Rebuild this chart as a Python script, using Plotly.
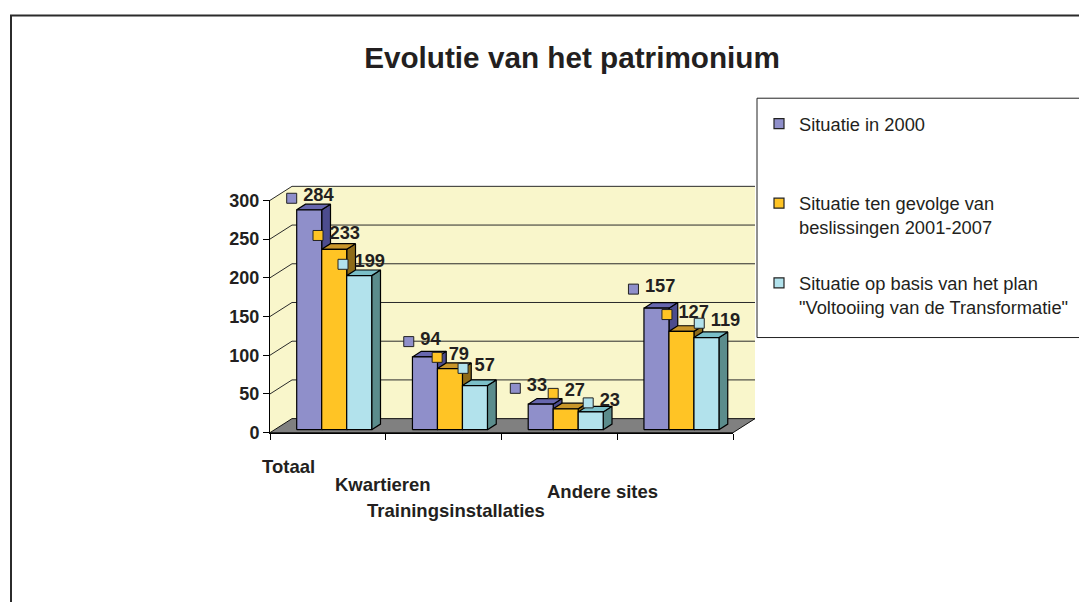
import plotly.graph_objects as go

# ---------------- data ----------------
categories = ["Totaal", "Kwartieren", "Trainingsinstallaties", "Andere sites"]
series_names = [
    "Situatie in 2000",
    "Situatie ten gevolge van<br>beslissingen 2001-2007",
    "Situatie op basis van het plan<br>\"Voltooiing van de Transformatie\"",
]
situatie_2000 = [284, 94, 33, 157]
situatie_2001_2007 = [233, 79, 27, 127]
situatie_plan = [199, 57, 23, 119]
y_ticks = [0, 50, 100, 150, 200, 250, 300]
title_text = "Evolutie van het patrimonium"

series_values = [situatie_2000, situatie_2001_2007, situatie_plan]

# ---------------- styles ----------------
FONT = "Liberation Sans, Arial, sans-serif"
TXT = "#231F20"
front_colors = ["#8F8FCA", "#FFC425", "#B2E2EC"]
top_colors = ["#6767AE", "#C9962A", "#7BBFC8"]
side_colors = ["#4C4C8E", "#8E6B19", "#5B8C8C"]
WALL = "#F9F6CB"
FLOOR = "#808080"

# ---------------- page / figure size ----------------
W = 1079
FIG_H = 602
# vertical calibration: shown_y = V_SCALE * fig_y + V_OFF
V_SCALE = 0.9655
V_OFF = 8.9


def px_x(p):
    return p / W


def px_y(r):
    fy = (r - V_OFF) / V_SCALE
    return 1 - fy / FIG_H


# ---------------- geometry (target pixels -> data units) ----------------
X0_PX = 270.0          # pixel of front y-axis
Y0_PX = 431.0          # pixel of value 0 on the front plane
CAT_PX = 115.75        # pixels per category
VAL_PX = 232.0 / 300   # pixels per value unit

DX = 22 / CAT_PX       # full depth, x
DY = 14 / VAL_PX       # full depth, y
F_FRONT, F_BACK = 0.21, 0.61
BAR_OFF = 26.7 / CAT_PX
BAR_W = 25 / CAT_PX
NCAT = len(categories)
YMAX = y_ticks[-1]

# label nudges (pixels) of the data-label key relative to bar's front top-left corner
label_dx = [[-5, -3.7, -12.9, -10.5], [-3.7, -0.3, 0, -2], [-3.7, 0.6, 10, 5.3]]
label_dy = [[-11.5, -15.3, -15.8, -19], [-13.8, -11.2, -15.4, -16.8], [-11.3, -17.2, -9, -14.3]]

fig = go.Figure()

# walls (side + back)
wx = [0, 0, DX, NCAT + DX, NCAT + DX, NCAT, 0]
wy = [0, YMAX, YMAX + DY, YMAX + DY, DY, 0, 0]
fig.add_trace(go.Scatter(x=wx, y=wy, fill="toself", fillcolor=WALL, mode="lines",
                         line=dict(width=0), hoverinfo="skip", showlegend=False))
# gridlines
gx, gy = [], []
for v in y_ticks[1:]:
    gx += [0, DX, NCAT + DX, None]
    gy += [v, v + DY, v + DY, None]
fig.add_trace(go.Scatter(x=gx, y=gy, mode="lines", line=dict(color="#2a2a2a", width=1),
                         hoverinfo="skip", showlegend=False))
# floor
fig.add_trace(go.Scatter(x=[0, NCAT, NCAT + DX, DX, 0], y=[0, 0, DY, DY, 0], fill="toself",
                         fillcolor=FLOOR, mode="lines", line=dict(color="#111", width=1),
                         hoverinfo="skip", showlegend=False))

# 3D bars
base = F_FRONT * DY
ddx = (F_BACK - F_FRONT) * DX
ddy = (F_BACK - F_FRONT) * DY
for s, vals in enumerate(series_values):
    fx, fy, tx, ty, sx, sy = [], [], [], [], [], []
    for i, v in enumerate(vals):
        xl = i + BAR_OFF + s * BAR_W
        xr = xl + BAR_W
        yb = base
        yt = v + base
        fx += [xl, xr, xr, xl, xl, None]
        fy += [yb, yb, yt, yt, yb, None]
        tx += [xl, xr, xr + ddx, xl + ddx, xl, None]
        ty += [yt, yt, yt + ddy, yt + ddy, yt, None]
        sx += [xr, xr + ddx, xr + ddx, xr, xr, None]
        sy += [yb, yb + ddy, yt + ddy, yt, yb, None]
    for px_, py_, col in ((sx, sy, side_colors[s]), (tx, ty, top_colors[s]), (fx, fy, front_colors[s])):
        fig.add_trace(go.Scatter(x=px_, y=py_, fill="toself", fillcolor=col, mode="lines",
                                 line=dict(color="#000", width=1.2), hoverinfo="skip",
                                 showlegend=False))

# data labels (legend key + value)
for s, vals in enumerate(series_values):
    mx, my, tx, ty, tt = [], [], [], [], []
    for i, v in enumerate(vals):
        xl = i + BAR_OFF + s * BAR_W
        x_c = xl + label_dx[s][i] / CAT_PX
        y_c = v + base - label_dy[s][i] / VAL_PX
        mx.append(x_c)
        my.append(y_c)
        tx.append(x_c + 11.5 / CAT_PX)
        ty.append(y_c + 1.5 / VAL_PX)
        tt.append(str(v))
    fig.add_trace(go.Scatter(x=mx, y=my, mode="markers",
                             marker=dict(symbol="square", size=10, color=front_colors[s],
                                         line=dict(color="#222", width=1)),
                             hoverinfo="skip", showlegend=False, cliponaxis=False))
    fig.add_trace(go.Scatter(x=tx, y=ty, mode="text", text=tt, textposition="middle right",
                             textfont=dict(family=FONT, size=18.3, color=TXT, weight="bold"),
                             hoverinfo="skip", showlegend=False, cliponaxis=False))

# legend entries
legend_labels = [series_names[0] + "<br> ", series_names[1], series_names[2]]
for s in range(3):
    fig.add_trace(go.Scatter(x=[None], y=[None], mode="markers", name=legend_labels[s],
                             legendgroup=f"g{s}",
                             marker=dict(symbol="square", size=10, color=front_colors[s],
                                         line=dict(color="#222", width=1.2))))

# axis subplot (front value axis + category axis)
fig.add_trace(go.Scatter(x=[None], y=[None], xaxis="x2", yaxis="y2", showlegend=False,
                         hoverinfo="skip"))

# main (drawing) axes span the whole figure
r_top = V_OFF                       # target px of figure top
r_bot = V_SCALE * FIG_H + V_OFF     # target px of figure bottom
yr_ = [(Y0_PX - r_bot) / VAL_PX, (Y0_PX - r_top) / VAL_PX]
xr_ = [-X0_PX / CAT_PX, (W - X0_PX) / CAT_PX]

x2dom = [px_x(X0_PX), px_x(X0_PX + NCAT * CAT_PX)]
y2dom = [px_y(Y0_PX), px_y(Y0_PX - YMAX * VAL_PX)]

cat_label_px = [(260, 465), (333, 483), (365, 509), (545, 490)]
annotations = []
for name, (lx, ly) in zip(categories, cat_label_px):
    annotations.append(dict(text=name, x=px_x(lx), y=px_y(ly), xref="paper", yref="paper",
                            xanchor="left", yanchor="middle", showarrow=False,
                            font=dict(family=FONT, size=18.5, color=TXT, weight="bold")))

shapes = [
    # outer frame
    dict(type="rect", xref="paper", yref="paper", x0=px_x(11), x1=1.05, y0=-0.05, y1=px_y(14.5),
         line=dict(color="#2b2b2b", width=2), fillcolor="rgba(0,0,0,0)", layer="below"),
    # legend box
    dict(type="rect", xref="paper", yref="paper", x0=px_x(757), x1=1.05, y0=px_y(336), y1=px_y(97),
         line=dict(color="#222", width=1), fillcolor="white", layer="above"),
]

fig.update_layout(
    width=W, height=FIG_H,
    margin=dict(l=0, r=0, t=0, b=0),
    paper_bgcolor="white", plot_bgcolor="rgba(0,0,0,0)",
    font=dict(family=FONT, color=TXT),
    title=dict(text=title_text, x=px_x(572), xanchor="center", y=px_y(56), yanchor="middle",
               xref="paper", yref="paper",
               font=dict(family=FONT, size=29.7, color=TXT, weight="bold")),
    xaxis=dict(range=xr_, visible=False, fixedrange=True),
    yaxis=dict(range=yr_, visible=False, fixedrange=True),
    xaxis2=dict(domain=x2dom, range=[0, NCAT], anchor="y2", showgrid=False, zeroline=False,
                showline=True, linecolor="#000", linewidth=1, ticks="outside", ticklen=6,
                tickcolor="#000", tickvals=list(range(NCAT + 1)), showticklabels=False,
                fixedrange=True),
    yaxis2=dict(domain=y2dom, range=[0, YMAX], anchor="x2", showgrid=False, zeroline=False,
                showline=True, linecolor="#000", linewidth=1, ticks="outside", ticklen=6,
                tickcolor="#000", tickvals=y_ticks,
                tickfont=dict(family=FONT, size=18, color=TXT, weight="bold"),
                fixedrange=True),
    showlegend=True,
    legend=dict(x=px_x(759), y=px_y(104), xanchor="left", yanchor="top",
                bgcolor="rgba(0,0,0,0)", borderwidth=0, valign="top",
                tracegroupgap=29, font=dict(family=FONT, size=18.3, color=TXT),
                itemclick=False, itemdoubleclick=False),
    annotations=annotations,
    shapes=shapes,
)

fig.write_html("out.html", config={"displayModeBar": False},
               post_script="document.body.style.margin='0';document.body.style.overflow='hidden';")
